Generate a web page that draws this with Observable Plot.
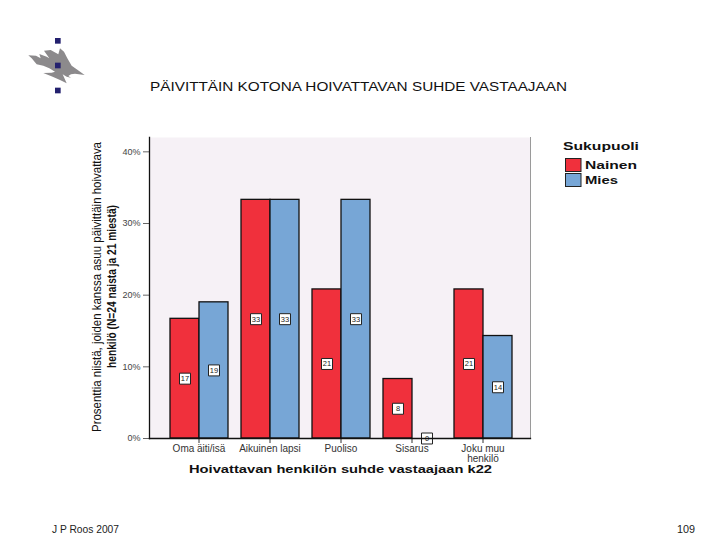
<!DOCTYPE html>
<html><head><meta charset="utf-8">
<script src="https://cdn.jsdelivr.net/npm/d3@7"></script>
<script src="https://cdn.jsdelivr.net/npm/@observablehq/plot@0.6"></script>
<style>
html,body{margin:0;padding:0;background:#fff;width:720px;height:540px;overflow:hidden}
#wrap{position:relative;width:720px;height:540px;font-family:"Liberation Sans",Arial,sans-serif}
#chart{position:absolute;left:0;top:0}
#over{position:absolute;left:0;top:0;pointer-events:none}
#over text{font-family:"Liberation Sans",Arial,sans-serif}
</style></head>
<body>
<div id="wrap">
<div id="chart"></div>
<svg id="over" width="720" height="540" viewBox="0 0 720 540">
  <g transform="translate(10,25) scale(.3333)">
    <polygon fill="#8c8a8c" points="55,91 78,92 92,100 88,87 110,95 118,100 102,77 122,75 145,88 150,70 162,80 172,100 185,122 200,133 224,150 195,146 183,148 175,153 183,158 170,155 158,148 170,175 150,165 128,155 100,144 125,143 135,140 118,130 100,122 80,118 65,100"/>
    <rect x="135" y="39" width="17" height="17" fill="#23206e"/>
    <rect x="135" y="113" width="17" height="17" fill="#23206e"/>
    <rect x="135" y="188" width="17" height="17" fill="#23206e"/>
  </g>
  <text x="150" y="91" font-size="13.5" fill="#111" textLength="417" lengthAdjust="spacingAndGlyphs">PÄIVITTÄIN KOTONA HOIVATTAVAN SUHDE VASTAAJAAN</text>
  <text x="52" y="533" font-size="10" fill="#222" textLength="67" lengthAdjust="spacingAndGlyphs">J P Roos 2007</text>
  <text x="677" y="533" font-size="10" fill="#222" textLength="18" lengthAdjust="spacingAndGlyphs">109</text>
  <text transform="translate(101,432) rotate(-90)" font-size="13" fill="#111" textLength="290" lengthAdjust="spacingAndGlyphs">Prosenttia niistä, joiden kanssa asuu päivittäin hoivattava</text>
  <text transform="translate(116,368) rotate(-90)" font-size="13.5" font-weight="bold" fill="#111" textLength="163" lengthAdjust="spacingAndGlyphs">henkilö (N=24 naista ja 21 miestä)</text>
  <text x="189" y="473" font-size="11" font-weight="bold" fill="#111" textLength="303" lengthAdjust="spacingAndGlyphs">Hoivattavan henkilön suhde vastaajaan  k22</text>
  <text x="563" y="150" font-size="11.5" font-weight="bold" fill="#111" textLength="76" lengthAdjust="spacingAndGlyphs">Sukupuoli</text>
  <rect x="565.5" y="158.5" width="15.5" height="13" fill="#f0303c" stroke="#222" stroke-width="1"/>
  <rect x="565.5" y="173.5" width="15.5" height="13" fill="#77a6d6" stroke="#222" stroke-width="1"/>
  <text x="585" y="168.5" font-size="11.5" font-weight="bold" fill="#111" textLength="52" lengthAdjust="spacingAndGlyphs">Nainen</text>
  <text x="585" y="183.5" font-size="11.5" font-weight="bold" fill="#111" textLength="33" lengthAdjust="spacingAndGlyphs">Mies</text>
</svg>
</div>
<script>
const categories = ["Oma äiti/isä", "Aikuinen lapsi", "Puoliso", "Sisarus", "Joku muu\nhenkilö"];
const sexes = ["Nainen", "Mies"];
const nainenValues = [16.7, 33.3, 20.8, 8.3, 20.8];
const miesValues = [19.0, 33.3, 33.3, 0, 14.3];
const nainenLabels = ["17", "33", "21", "8", "21"];
const miesLabels = ["19", "33", "33", "0", "14"];
const yTicks = [0, 10, 20, 30, 40];
const colors = ["#f0303c", "#77a6d6"];

const rows = categories.flatMap((c, i) => [
  {cat: c, sex: sexes[0], value: nainenValues[i], label: nainenLabels[i]},
  {cat: c, sex: sexes[1], value: miesValues[i], label: miesLabels[i]}
]);

const chart = Plot.plot({
  width: 720, height: 540,
  marginTop: 137, marginBottom: 102, marginLeft: 150, marginRight: 190,
  style: {background: "transparent", fontFamily: "'Liberation Sans',Arial,sans-serif"},
  fx: {domain: categories, paddingInner: 0.17, paddingOuter: 0.26, label: null},
  x: {domain: sexes, padding: 0, axis: null},
  y: {domain: [0, 42], label: null},
  color: {domain: sexes, range: colors},
  marks: [
    Plot.frame({fill: "#f6f1f6", stroke: null, facet: "super", insetLeft: -20, insetRight: -18}),
    Plot.frame({anchor: "right", stroke: "#9a9a9a", facet: "super", dx: 18}),
    Plot.barY(rows, {fx: "cat", x: "sex", y: "value", fill: "sex", stroke: "#111", strokeWidth: 1.3}),
    Plot.dot(rows, {fx: "cat", x: "sex", y: d => d.value / 2, symbol: "square", r: 6.2,
      fill: "#fff", stroke: "#222", strokeWidth: 1}),
    Plot.text(rows, {fx: "cat", x: "sex", y: d => d.value / 2, text: "label", fontSize: 7.5, fill: "#222"}),
    Plot.axisY({ticks: yTicks, tickFormat: d => d + "%", tickSize: 6, tickPadding: 3, fontSize: 9, stroke: "#666", color: "#444", label: null, dx: -20}),
    Plot.axisFx({anchor: "bottom", tickSize: 5, tickPadding: 2, fontSize: 10, color: "#333", lineHeight: 0.95, label: null}),
    Plot.frame({anchor: "bottom", stroke: "#111", strokeWidth: 1.3, facet: "super", insetLeft: -20, insetRight: -18}),
    Plot.frame({anchor: "left", stroke: "#111", strokeWidth: 1.3, facet: "super", dx: -20})
  ]
});
document.getElementById("chart").appendChild(chart);
</script>
</body></html>
